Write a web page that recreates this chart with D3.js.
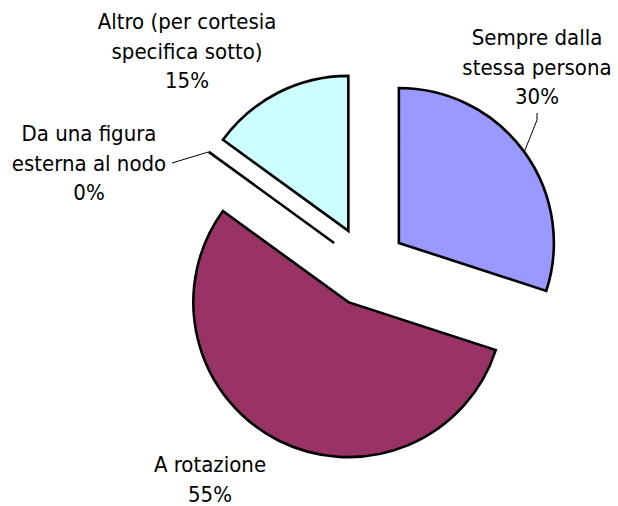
<!DOCTYPE html>
<html>
<head>
<meta charset="utf-8">
<script src="https://cdn.jsdelivr.net/npm/d3@7/dist/d3.min.js"></script>
<style>
  html, body { margin: 0; padding: 0; background: #fff; }
  svg { display: block; }
  .lbl { font-family: "DejaVu Sans Condensed", "DejaVu Sans", sans-serif; font-stretch: condensed; font-size: 22px; fill: #000; }
</style>
</head>
<body>
<svg id="chart" width="618" height="506"></svg>
<script>
  // data
  var categories = ["Sempre dalla stessa persona", "A rotazione", "Da una figura esterna al nodo", "Altro (per cortesia specifica sotto)"];
  var values = [30, 55, 0, 15];
  var labelLines = [
    ["Sempre dalla", "stessa persona", "30%"],
    ["A rotazione", "55%"],
    ["Da una figura", "esterna al nodo", "0%"],
    ["Altro (per cortesia", "specifica sotto)", "15%"]
  ];
  var colors = ["#9999FF", "#993366", "#FFFFCC", "#CCFFFF"];

  // layout
  var cx = 366.5, cy = 266.5, radius = 155, explode = 40;
  var labelPos = [[537, 45], [210, 472], [89, 141], [187, 29]];
  var lineHeight = 29.5;

  var svg = d3.select("#chart");

  var pie = d3.pie().sort(null).value(function (d) { return d; });
  var arcs = pie(values);

  var arc = d3.arc().innerRadius(0).outerRadius(radius);

  function offset(d, r) {
    var a = (d.startAngle + d.endAngle) / 2;
    return [Math.sin(a) * r, -Math.cos(a) * r];
  }

  var g = svg.append("g").attr("transform", "translate(" + cx + "," + cy + ")");

  g.selectAll(".slice").data(arcs).enter().append("path")
    .attr("class", "slice")
    .attr("transform", function (d) {
      var o = offset(d, explode);
      return "translate(" + o[0] + "," + o[1] + ")";
    })
    .attr("d", arc)
    .attr("fill", function (d, i) { return colors[i]; })
    .attr("stroke", "#000")
    .attr("stroke-width", 2.6)
    .attr("stroke-linejoin", "miter");

  // leader lines (to the outer edge at the slice middle)
  function edgePoint(i) {
    var o = offset(arcs[i], explode + radius);
    return [cx + o[0], cy + o[1]];
  }
  var p0 = edgePoint(0);
  var p2 = edgePoint(2);
  var leaders = [
    [[537, 113], [537, 120], p0],
    [[172, 163], p2]
  ];
  svg.selectAll(".leader").data(leaders).enter().append("path")
    .attr("class", "leader")
    .attr("d", d3.line())
    .attr("fill", "none")
    .attr("stroke", "#000")
    .attr("stroke-width", 1);

  // labels
  var labels = svg.selectAll(".lbl").data(labelLines).enter().append("text")
    .attr("class", "lbl")
    .attr("text-anchor", "middle")
    .attr("x", function (d, i) { return labelPos[i][0]; })
    .attr("y", function (d, i) { return labelPos[i][1]; });

  labels.each(function (lines, i) {
    d3.select(this).selectAll("tspan").data(lines).enter().append("tspan")
      .attr("x", labelPos[i][0])
      .attr("y", function (d, j) { return labelPos[i][1] + j * lineHeight; })
      .text(function (d) { return d; });
  });
</script>
</body>
</html>
